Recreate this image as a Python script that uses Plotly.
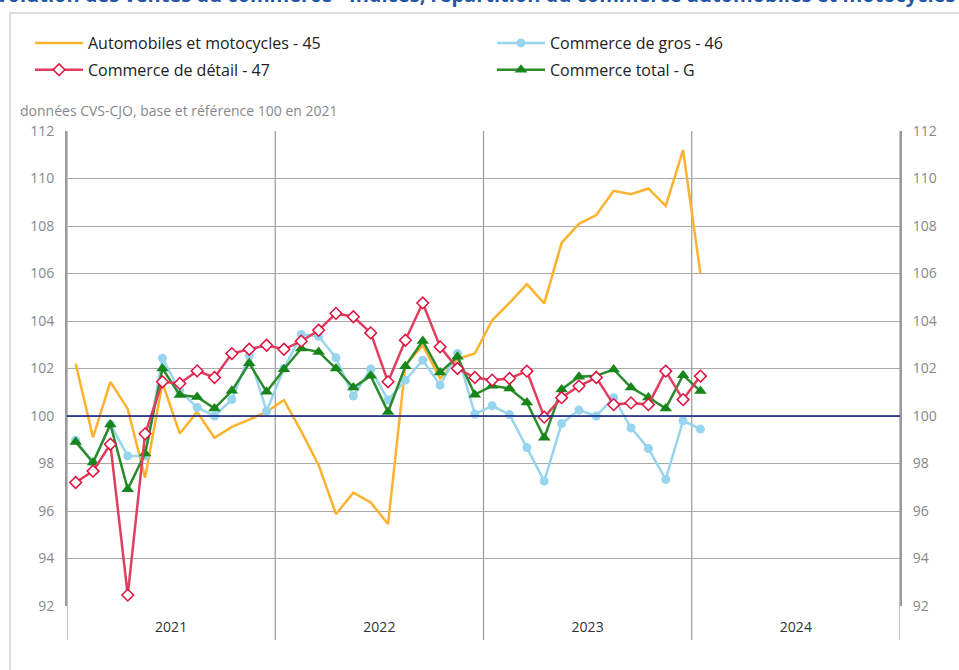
import plotly.graph_objects as go

# ---- data (Jan 2021 .. Jan 2024, monthly) ----
years = ["2021", "2022", "2023", "2024"]
auto_45 = [102.2, 99.1, 101.44, 100.3, 97.4, 101.4, 99.26, 100.17, 99.08, 99.54, 99.85, 100.17,
           100.67, 99.35, 97.93, 95.87, 96.77, 96.36, 95.45, 102.14, 102.98, 101.58, 102.4, 102.63,
           104.03, 104.76, 105.55, 104.74, 107.29, 108.09, 108.46, 109.48, 109.34, 109.58, 108.85, 111.19, 106.0]
gros_46 = [98.98, 98.03, 99.64, 98.32, 98.32, 102.43, 101.05, 100.36, 100.0, 100.69, 102.56, 100.2,
           102.0, 103.43, 103.36, 102.45, 100.84, 101.98, 100.67, 101.51, 102.35, 101.3, 102.63, 100.08,
           100.43, 100.06, 98.67, 97.26, 99.68, 100.25, 100.0, 100.77, 99.5, 98.63, 97.33, 99.8, 99.45]
detail_47 = [97.2, 97.68, 98.81, 92.46, 99.25, 101.44, 101.37, 101.9, 101.62, 102.63, 102.81, 102.98,
             102.81, 103.15, 103.61, 104.32, 104.18, 103.5, 101.44, 103.19, 104.76, 102.91, 102.0, 101.62,
             101.51, 101.58, 101.89, 99.95, 100.77, 101.26, 101.62, 100.48, 100.55, 100.48, 101.89, 100.69, 101.68]
total_G = [98.91, 98.04, 99.64, 96.92, 98.42, 102.0, 100.88, 100.8, 100.32, 101.06, 102.22, 101.02,
           101.97, 102.84, 102.7, 102.0, 101.2, 101.69, 100.17, 102.1, 103.16, 101.83, 102.49, 100.9,
           101.27, 101.16, 100.57, 99.08, 101.12, 101.65, 101.69, 101.96, 101.2, 100.78, 100.32, 101.72, 101.05]
y_ticks = [92, 94, 96, 98, 100, 102, 104, 106, 108, 110, 112]

months = list(range(len(auto_45)))

fig = go.Figure()
fig.add_trace(go.Scatter(x=months, y=auto_45, mode="lines", name="Automobiles et motocycles - 45",
                         line=dict(color="#fdb22f", width=2.5), legend="legend", legendrank=1,
                         legendgroup="a"))
fig.add_trace(go.Scatter(x=months, y=gros_46, mode="lines+markers", name="Commerce de gros - 46",
                         line=dict(color="#97d4ee", width=2.5),
                         marker=dict(symbol="circle", size=9, color="#97d4ee"),
                         legend="legend2", legendrank=1, legendgroup="b"))
fig.add_trace(go.Scatter(x=months, y=total_G, mode="lines+markers", name="Commerce total - G",
                         line=dict(color="#2b8a2b", width=2.5),
                         marker=dict(symbol="triangle-up", size=11, color="#17861a"),
                         legend="legend2", legendrank=2, legendgroup="c"))
fig.add_trace(go.Scatter(x=months, y=detail_47, mode="lines+markers", name="Commerce de détail - 47",
                         line=dict(color="#df3e5e", width=2.5),
                         marker=dict(symbol="diamond", size=9, color="white",
                                     line=dict(color="#e0103f", width=1.5)),
                         legend="legend", legendrank=2, legendgroup="d"))

L, R, T, B = 67, 59, 131, 64
W, H = 959, 670
pw, ph = W - L - R, H - T - B

def px_x(p):
    return (p - L) / pw

def px_y(p):
    return (H - B - p) / ph

shapes = []
# year boundaries
for xb in [-0.5, 11.5, 23.5, 35.5, 47.5]:
    shapes.append(dict(type="line", xref="x", yref="paper", x0=xb, x1=xb, y0=px_y(640), y1=1,
                       line=dict(color="#9a9a9a", width=1.2), layer="below"))
# reference line at 100
shapes.append(dict(type="line", xref="paper", yref="y", x0=0, x1=1, y0=100, y1=100,
                   line=dict(color="#0b1a80", width=1.5)))
# outer frame
shapes.append(dict(type="rect", xref="paper", yref="paper", x0=px_x(10), x1=px_x(1000),
                   y0=px_y(700), y1=px_y(13), line=dict(color="#dddddd", width=2), layer="below"))

leg_common = dict(orientation="v", xanchor="left", yanchor="top", xref="paper", yref="paper",
                  itemwidth=48, font=dict(size=16, color="#222222"), bgcolor="rgba(0,0,0,0)",
                  traceorder="grouped", tracegroupgap=3)

fig.update_layout(
    width=W, height=H,
    margin=dict(l=L, r=R, t=T, b=B),
    paper_bgcolor="white", plot_bgcolor="white",
    font=dict(family="Open Sans", size=14, color="#888888"),
    showlegend=True,
    legend=dict(x=px_x(30), y=px_y(26), **leg_common),
    legend2=dict(x=px_x(492), y=px_y(26), **leg_common),
    xaxis=dict(range=[-0.5, 47.5], tickvals=[5.5, 17.5, 29.5, 41.5], ticktext=years,
               showgrid=False, zeroline=False, showline=False, ticks="",
               tickfont=dict(size=14, color="#333333"), ticklabelstandoff=11),
    yaxis=dict(range=[92, 112], tickvals=y_ticks, showgrid=True, gridcolor="#a8a8a8", gridwidth=1,
               zeroline=False, showline=True, linecolor="#999999", linewidth=2, ticks="",
               tickfont=dict(size=14, color="#888888"), ticklabelstandoff=8),
    yaxis2=dict(range=[92, 112], tickvals=y_ticks, overlaying="y", side="right", showgrid=False,
                zeroline=False, showline=True, linecolor="#999999", linewidth=2, ticks="",
                tickfont=dict(size=14, color="#888888"), ticklabelstandoff=8),
    shapes=shapes,
    annotations=[
        dict(text="données CVS-CJO, base et référence 100 en 2021", xref="paper", yref="paper",
             x=px_x(18), y=px_y(110), xanchor="left", yanchor="middle", showarrow=False,
             font=dict(size=14, color="#888888")),
        dict(text="<b>Évolution des ventes du commerce - Indices, répartition du commerce automobiles et motocycles</b>",
             xref="paper", yref="paper", x=px_x(470), y=px_y(-5.5), xanchor="center", yanchor="middle",
             showarrow=False, font=dict(size=20, color="#1f56a6")),
    ],
)
# invisible trace to activate right axis
fig.add_trace(go.Scatter(x=[None], y=[None], yaxis="y2", showlegend=False, hoverinfo="skip"))

fig.write_html("out.html", config={"displayModeBar": False},
               post_script="document.body.style.margin='0px';")
